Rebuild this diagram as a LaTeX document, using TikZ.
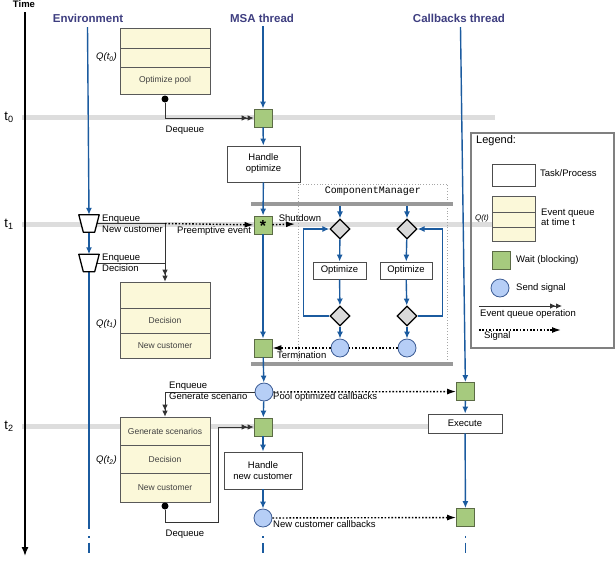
\documentclass[tikz,border=0pt]{standalone}
\usepackage{fontspec}
\setmainfont{Liberation Sans}
\setmonofont{Liberation Mono}
\usepackage{xcolor}
\usetikzlibrary{arrows.meta,shapes.geometric}
\definecolor{thread}{HTML}{1B5B9F}
\definecolor{header}{HTML}{3E3E80}
\definecolor{queuebg}{HTML}{FBF8D9}
\definecolor{waitbg}{HTML}{A6CA7E}
\definecolor{waitline}{HTML}{5B6B45}
\definecolor{signalbg}{HTML}{B6CEF6}
\definecolor{signalline}{HTML}{3C5C95}
\definecolor{timebar}{HTML}{DDDDDD}

\begin{document}
\begin{tikzpicture}[x=1pt,y=-1pt,
        font=\fontsize{9.5}{11}\selectfont,
        title/.style={text=header,font=\fontsize{11.5}{12}\selectfont\bfseries},
        flow/.style={draw=thread,line width=1.4pt,-{Latex[length=7pt,width=6pt]}},
        threadline/.style={draw=thread,line width=1.4pt},
        tail/.style={threadline,dash pattern=on 0pt off 9pt on 1.6pt off 5pt on 20pt},
        queueop/.style={draw=black!80,line width=0.8pt,-{Latex[length=6pt,width=5.5pt]Latex[length=6pt,width=5.5pt]}},
        opline/.style={draw=black!80,line width=0.8pt},
        signal/.style={draw=black,line width=1.4pt,dash pattern=on 1.6pt off 1.8pt,-{Latex[length=9pt,width=6pt]}},
        task/.style={draw=black!70,fill=white,line width=0.8pt,align=center,inner sep=0pt},
        qrow/.style={draw=black!65,fill=queuebg,line width=0.8pt,minimum width=90pt,inner sep=0pt,text=black!75,font=\fontsize{8.5}{9}\selectfont},
        wait/.style={draw=waitline,fill=waitbg,line width=0.8pt,minimum size=18pt,inner sep=0pt},
        send/.style={circle,draw=signalline,fill=signalbg,line width=0.8pt,minimum size=18pt,inner sep=0pt},
        choice/.style={diamond,draw=black,fill=black!15,line width=1.2pt,minimum size=20pt,inner sep=0pt},
        enqspot/.style={minimum width=20pt,minimum height=17pt,inner sep=0pt},
        enqshape/.style={draw=black,fill=white,line width=1.3pt,line join=round},
        qdot/.style={circle,fill=black,minimum size=7pt,inner sep=0pt},
        bar/.style={fill=black!40,minimum height=3.5pt,inner sep=0pt},
        lbl/.style={anchor=west,align=left,inner sep=0pt},
        qlabel/.style={anchor=east,inner sep=0pt,font=\fontsize{9.5}{10}\selectfont\itshape}
    ]
    \useasboundingbox (0,0) rectangle (616,566);

    % time slices
    \fill[timebar] (22,114.5) rectangle (495,119.5);
    \fill[timebar] (22,221.5) rectangle (492,226.5);
    \fill[timebar] (22,424) rectangle (440,429);

    % time axis
    \node[font=\fontsize{9.5}{10}\selectfont\bfseries,inner sep=0pt] (timelbl) at (24,4.5) {Time};
    \coordinate (timetop) at (25,12);
    \coordinate (timeend) at (25,556);
    \draw[line width=1.5pt,-{Latex[length=9pt,width=7pt]}] (timetop) -- (timeend);
    \node[font=\fontsize{13}{13}\selectfont] (t0) at (9,117) {t\textsubscript{0}};
    \node[font=\fontsize{13}{13}\selectfont] (t1) at (9,224) {t\textsubscript{1}};
    \node[font=\fontsize{13}{13}\selectfont] (t2) at (9,426) {t\textsubscript{2}};

    % headers
    \node[title] (envhead) at (88,18) {Environment};
    \node[title] (msahead) at (262,18) {MSA thread};
    \node[title] (cbhead) at (459,18) {Callbacks thread};

    % event queues
    \node[qrow,minimum height=20pt] (q0a) at (165,38) {};
    \node[qrow,minimum height=19pt] (q0b) at (165,57.5) {};
    \node[qrow,minimum height=27pt] (q0c) at (165,80.5) {Optimize pool};
    \node[qlabel] (q0lbl) at (117,57) {Q(t\textsubscript{0})};
    \node[qdot] (deq0) at (165,99) {};
    \node (deq0lbl) at (185,130) {Dequeue};

    \node[qrow,minimum height=26pt] (q1a) at (165,295) {};
    \node[qrow,minimum height=25pt] (q1b) at (165,320.5) {Decision};
    \node[qrow,minimum height=25pt] (q1c) at (165,345.5) {New customer};
    \node[qlabel] (q1lbl) at (117,324) {Q(t\textsubscript{1})};

    \node[qrow,minimum height=28pt] (q2a) at (165,431) {Generate scenarios};
    \node[qrow,minimum height=28pt] (q2b) at (165,459) {Decision};
    \node[qrow,minimum height=29pt] (q2c) at (165,487.5) {New customer};
    \node[qlabel] (q2lbl) at (117,460) {Q(t\textsubscript{2})};
    \node[qdot] (deq2) at (165,506) {};
    \node (deq2lbl) at (185,534) {Dequeue};

    % environment
    \coordinate (envtop) at (87.5,27);
    \node[enqspot] (tr1) at (89,223.5) {};
    \node[enqspot] (tr2) at (89,263) {};
    \node[lbl] (tr1lbl) at (102,223.5) {Enqueue\\New customer};
    \node[lbl] (tr2lbl) at (102,262.5) {Enqueue\\Decision};
    \coordinate (envcut) at (89,529);
    \coordinate (envend) at (89,553);
    \coordinate (enqsplit) at (tr1.center -| q1a.north);
    \draw[opline] (tr2.center) -- (tr2.center -| q1a.north);
    \draw[queueop] (tr1.center) -| (q1a.north);
    \draw[flow] (envtop) -- (tr1.north);
    \draw[flow] (tr1.south) -- (tr2.north);
    \draw[threadline] (tr2.south) -- (envcut);
    \draw[tail,dash pattern=on 0pt off 7pt on 1.6pt off 5pt on 20pt] (envcut) -- (envend);
    \foreach \t in {tr1,tr2}
        \draw[enqshape] (\t.north west) -- (\t.north east)
            -- ([xshift=-4.5pt]\t.south east) -- ([xshift=4.5pt]\t.south west) -- cycle;

    % ComponentManager
    \draw[black!35,dotted,line width=0.8pt] (298,184) rectangle (447,364);
    \node[font=\ttfamily\fontsize{10}{10}\selectfont] (cmlbl) at (373,191) {ComponentManager};
    \node[bar,minimum width=202pt] (fork) at (352,204) {};
    \node[bar,minimum width=202pt] (join) at (352,364) {};
    \node[choice] (d1a) at (340,229) {};
    \node[task,minimum width=53pt,minimum height=17pt] (opt1) at (339.5,270.5) {Optimize};
    \node[choice] (d2a) at (340,316) {};
    \node[send] (s3) at (340,348) {};
    \node[choice] (d1b) at (407,229) {};
    \node[task,minimum width=52pt,minimum height=17pt] (opt2) at (406,270.5) {Optimize};
    \node[choice] (d2b) at (407,316) {};
    \node[send] (s4) at (407,348) {};
    \draw[flow] (fork.south -| d1a) -- (d1a);
    \draw[flow] (d1a) -- (opt1);
    \draw[flow] (opt1) -- (d2a);
    \draw[flow] (d2a) -- (s3);
    \draw[flow] (d2a.west) -- ++(-26,0) |- (d1a.west);
    \draw[flow] (fork.south -| d1b) -- (d1b);
    \draw[flow] (d1b) -- (opt2);
    \draw[flow] (opt2) -- (d2b);
    \draw[flow] (d2b) -- (s4);
    \draw[flow] (d2b.east) -- ++(25,0) |- (d1b.east);

    % MSA thread
    \coordinate (msatop) at (263,26);
    \node[wait] (w0) at (263,118) {};
    \node[task,minimum width=73pt,minimum height=36pt] (hopt) at (263.5,164) {Handle\\optimize};
    \node[wait] (w1) at (263,225) {};
    \node[font=\fontsize{16}{16}\selectfont\bfseries,inner sep=0pt] (w1star) at (263,226) {*};
    \node[wait] (w2) at (263,348) {};
    \node[send] (s1) at (264,392) {};
    \node[wait] (w3) at (263,427) {};
    \node[task,minimum width=78pt,minimum height=37pt] (hnew) at (263,470.5) {Handle\\new customer};
    \node[send] (s2) at (263,518) {};
    \coordinate (msaend) at (263,553);
    \draw[flow] (msatop) -- (w0);
    \draw[flow] (w0) -- (hopt);
    \draw[flow] (hopt) -- (w1);
    \draw[flow] (w1) -- (w2);
    \draw[flow] (w2) -- (s1);
    \draw[flow] (s1) -- (w3);
    \draw[flow] (w3) -- (hnew);
    \draw[flow] (hnew) -- (s2);
    \draw[tail] (s2) -- (msaend);

    % callbacks thread
    \coordinate (cbtop) at (460.5,27);
    \node[wait] (cw1) at (465.5,391.5) {};
    \node[task,minimum width=74pt,minimum height=19pt] (exec) at (465,423.5) {Execute};
    \node[wait] (cw2) at (465.5,517.5) {};
    \coordinate (cbend) at (465.5,553);
    \draw[flow] (cbtop) -- (cw1);
    \draw[flow] (cw1) -- (exec);
    \draw[flow] (exec) -- (cw2);
    \draw[tail] (cw2) -- (cbend);

    % event queue operations
    \draw[queueop] (deq0) |- (w0);
    \coordinate (deqturn) at (218,522);
    \draw[queueop] (deq2) |- (deqturn) |- (w3);
    \draw[queueop] (s1.west) -| (q2a.north);
    \node[lbl] (s1lbl) at (169,390.5) {Enqueue\\Generate scenario};

    % signals
    \draw[signal] (enqsplit) -- (w1);
    \node[lbl] (preemptlbl) at (177,231) {Preemptive event};
    \coordinate (shutend) at (295,224);
    \draw[signal] (w1) -- (shutend);
    \node (shutlbl) at (300,218.5) {Shutdown};
    \draw[signal,-] (s4) -- (s3);
    \draw[signal] (s3) -- (w2);
    \node[lbl] (termlbl) at (277,355) {Termination};
    \draw[signal] (s1) -- (cw1);
    \node[lbl] (poollbl) at (273,397.5) {Pool optimized callbacks};
    \draw[signal] (s2) -- (cw2);
    \node[lbl] (newlbl) at (273,524.5) {New customer callbacks};

    % legend
    \draw[black!50,line width=1.2pt] (471,133) rectangle (614,348);
    \node[lbl,font=\fontsize{11}{12}\selectfont] (leg) at (476,141) {Legend:};
    \node[task,minimum width=43pt,minimum height=22pt] (legtask) at (513.5,175) {};
    \node[lbl] (legtasklbl) at (540,173) {Task/Process};
    \node[qrow,minimum width=43pt,minimum height=16pt] (legqa) at (513.5,204) {};
    \node[qrow,minimum width=43pt,minimum height=15pt] (legqb) at (513.5,219.5) {};
    \node[qrow,minimum width=43pt,minimum height=14pt] (legqc) at (513.5,234) {};
    \node[qlabel,font=\fontsize{8}{8}\selectfont\itshape] (legqlbl) at (489,218) {Q(t)};
    \node[lbl,font=\fontsize{9.5}{9.5}\selectfont] (legqtxt) at (541,217.5) {Event queue\\at time t};
    \node[wait] (legwait) at (501,260) {};
    \node[lbl] (legwaitlbl) at (516,260) {Wait (blocking)};
    \node[send] (legsend) at (500,288) {};
    \node[lbl] (legsendlbl) at (516,288) {Send signal};
    \coordinate (legop1) at (479,306);
    \coordinate (legop2) at (562,306);
    \draw[queueop] (legop1) -- (legop2);
    \node[lbl] (legoplbl) at (480,314) {Event queue operation};
    \coordinate (legsig1) at (479,330);
    \coordinate (legsig2) at (561,330);
    \draw[signal] (legsig1) -- (legsig2);
    \node[lbl] (legsiglbl) at (484,336) {Signal};
\end{tikzpicture}
\end{document}
